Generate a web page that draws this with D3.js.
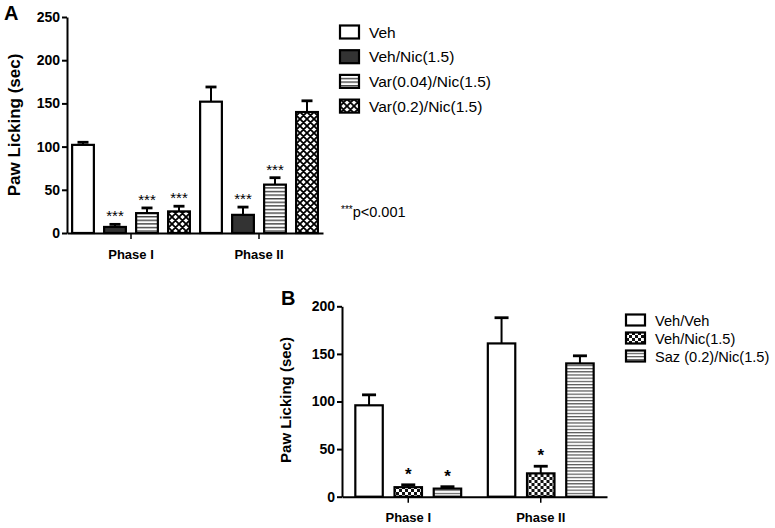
<!DOCTYPE html>
<html>
<head>
<meta charset="utf-8">
<script src="https://cdn.jsdelivr.net/npm/d3@7"></script>
<style>
  body { margin: 0; background: #fff; }
  svg { font-family: "Liberation Sans", Arial, sans-serif; }
</style>
</head>
<body>
<script>
// data
var phases = ["Phase I", "Phase II"];

var groupsA = ["Veh", "Veh/Nic(1.5)", "Var(0.04)/Nic(1.5)", "Var(0.2)/Nic(1.5)"];
var meansA = [[102, 7, 23, 25], [152, 21, 56, 140]];
var errA = [[3, 3, 6, 6], [17, 9, 8, 13]];
var starsA = [["", "***", "***", "***"], ["", "***", "***", ""]];
var ticksA = [0, 50, 100, 150, 200, 250];

var groupsB = ["Veh/Veh", "Veh/Nic(1.5)", "Saz (0.2)/Nic(1.5)"];
var meansB = [[96, 10, 8.5], [161, 24.5, 140]];
var errB = [[11, 2.5, 2], [27, 7.5, 8]];
var starsB = [["", "*", "*"], ["", "*", ""]];
var ticksB = [0, 50, 100, 150, 200];

var svg = d3.select("body").append("svg")
    .attr("width", 775)
    .attr("height", 528);

// fill patterns
var defs = svg.append("defs");

var p = defs.append("pattern").attr("id", "stripeA")
    .attr("patternUnits", "userSpaceOnUse").attr("width", 4).attr("height", 3.6);
p.append("rect").attr("width", 4).attr("height", 3.6).attr("fill", "#fff");
p.append("rect").attr("y", 0).attr("width", 4).attr("height", 1.4).attr("fill", "#444");

p = defs.append("pattern").attr("id", "cross")
    .attr("patternUnits", "userSpaceOnUse").attr("width", 7).attr("height", 7);
p.append("rect").attr("width", 7).attr("height", 7).attr("fill", "#fff");
p.append("path").attr("d", "M0,0L7,7M7,0L0,7M-1,6L1,8M6,-1L8,1M-1,1L1,-1M6,8L8,6")
    .attr("stroke", "#000").attr("stroke-width", 1.8);

p = defs.append("pattern").attr("id", "checker")
    .attr("patternUnits", "userSpaceOnUse").attr("width", 6).attr("height", 6);
p.append("rect").attr("width", 6).attr("height", 6).attr("fill", "#fff");
p.append("rect").attr("width", 3).attr("height", 3).attr("fill", "#111");
p.append("rect").attr("x", 3).attr("y", 3).attr("width", 3).attr("height", 3).attr("fill", "#111");

p = defs.append("pattern").attr("id", "stripeB")
    .attr("patternUnits", "userSpaceOnUse").attr("width", 4).attr("height", 3.2);
p.append("rect").attr("width", 4).attr("height", 3.2).attr("fill", "#fff");
p.append("rect").attr("width", 4).attr("height", 1.2).attr("fill", "#555");

var fillsA = ["#fff", "#333", "url(#stripeA)", "url(#cross)"];
var fillsB = ["#fff", "url(#checker)", "url(#stripeB)"];

// draw one panel
function drawPanel(cfg){
    var g = svg.append("g");

    var y = d3.scaleLinear().domain(cfg.domain).range([cfg.y0, cfg.y1]);
    var x = d3.scaleBand().domain(phases).range([cfg.x0, cfg.x1]);
    var xi = d3.scaleBand().domain(cfg.groups)
        .range([0, x.bandwidth()])
        .paddingInner(cfg.padIn).paddingOuter(cfg.padOut);

    // bars
    phases.forEach(function(ph, pi){
        var gg = g.append("g").attr("transform", "translate(" + x(ph) + ",0)");
        cfg.groups.forEach(function(grp, gi){
            var v = cfg.means[pi][gi], e = cfg.errs[pi][gi];
            var cx = xi(grp) + xi.bandwidth() / 2;
            gg.append("line")
                .attr("x1", cx).attr("x2", cx)
                .attr("y1", y(v)).attr("y2", y(v + e))
                .attr("stroke", "#000").attr("stroke-width", 2);
            gg.append("line")
                .attr("x1", cx - cfg.cap / 2).attr("x2", cx + cfg.cap / 2)
                .attr("y1", y(v + e)).attr("y2", y(v + e))
                .attr("stroke", "#000").attr("stroke-width", 2.8);
            gg.append("rect")
                .attr("x", xi(grp)).attr("y", y(v))
                .attr("width", xi.bandwidth()).attr("height", y(0) - y(v))
                .attr("fill", cfg.fills[gi])
                .attr("stroke", "#000").attr("stroke-width", 2.2);
            if (cfg.stars[pi][gi]) {
                gg.append("text")
                    .attr("x", cx).attr("y", y(v + e) - cfg.starGap)
                    .attr("text-anchor", "middle")
                    .attr("font-size", cfg.starSize)
                    .attr("font-weight", cfg.starWeight)
                    .text(cfg.stars[pi][gi]);
            }
        });
    });

    // y axis
    var ya = g.append("g").attr("transform", "translate(" + cfg.x0 + ",0)")
        .call(d3.axisLeft(y).tickValues(cfg.ticks).tickSize(5).tickPadding(2).tickSizeOuter(0));
    ya.select(".domain").attr("stroke-width", 2);
    ya.selectAll(".tick line").attr("stroke-width", 2);
    ya.selectAll("text").attr("font-size", 14).attr("font-weight", "bold")
        .attr("font-family", "Liberation Sans, Arial, sans-serif").attr("fill", "#000");

    // x axis
    var xa = g.append("g").attr("transform", "translate(0," + cfg.y0 + ")")
        .call(d3.axisBottom(x).tickSize(6).tickPadding(cfg.xPad).tickSizeOuter(0));
    xa.select(".domain").attr("stroke-width", 2);
    xa.selectAll(".tick line").attr("stroke-width", 1.5);
    xa.selectAll("text").attr("font-size", 13).attr("font-weight", "bold")
        .attr("font-family", "Liberation Sans, Arial, sans-serif").attr("fill", "#000");

    // y title
    g.append("text")
        .attr("transform", "translate(" + cfg.titleX + "," + cfg.titleY + ") rotate(-90)")
        .attr("text-anchor", "middle")
        .attr("font-size", cfg.titleSize).attr("font-weight", "bold")
        .text("Paw Licking (sec)");

    // panel letter
    g.append("text").attr("x", cfg.letterX).attr("y", cfg.letterY)
        .attr("font-size", 20).attr("font-weight", "bold").text(cfg.letter);

    // legend
    var lg = g.append("g").attr("transform", "translate(" + cfg.legX + "," + cfg.legY + ")");
    cfg.groups.forEach(function(grp, gi){
        var row = lg.append("g").attr("transform", "translate(0," + gi * cfg.legStep + ")");
        row.append("rect").attr("x", 0).attr("y", -cfg.boxH / 2)
            .attr("width", 19).attr("height", cfg.boxH)
            .attr("fill", cfg.fills[gi]).attr("stroke", "#000").attr("stroke-width", 2.2);
        row.append("text").attr("x", 29).attr("y", 5.5)
            .attr("font-size", cfg.legSize).text(grp);
    });
}

drawPanel({
    letter: "A", letterX: 4, letterY: 20,
    domain: [0, 250], ticks: ticksA,
    y0: 233, y1: 17, x0: 67, x1: 323,
    groups: groupsA, means: meansA, errs: errA, stars: starsA, fills: fillsA,
    padIn: 0.32, padOut: 0.16, cap: 11,
    starGap: 3, starSize: 15, starWeight: "normal",
    xPad: 11, titleX: 20, titleY: 125, titleSize: 17,
    legX: 340, legY: 32, legStep: 24.7, boxH: 13, legSize: 15.5
});

drawPanel({
    letter: "B", letterX: 281, letterY: 305,
    domain: [0, 200], ticks: ticksB,
    y0: 496.7, y1: 306.3, x0: 342, x1: 607,
    groups: groupsB, means: meansB, errs: errB, stars: starsB, fills: fillsB,
    padIn: 0.3, padOut: 0.34, cap: 14,
    starGap: 5, starSize: 17, starWeight: "bold",
    xPad: 10, titleX: 291, titleY: 400, titleSize: 15,
    legX: 626, legY: 320, legStep: 18, boxH: 11, legSize: 14.6
});

// significance note for panel A
var note = svg.append("text").attr("x", 341).attr("y", 217).attr("font-size", 14.5);
note.append("tspan").attr("font-size", 10).attr("dy", -4).text("***");
note.append("tspan").attr("dy", 4).text("p<0.001");
</script>
</body>
</html>
